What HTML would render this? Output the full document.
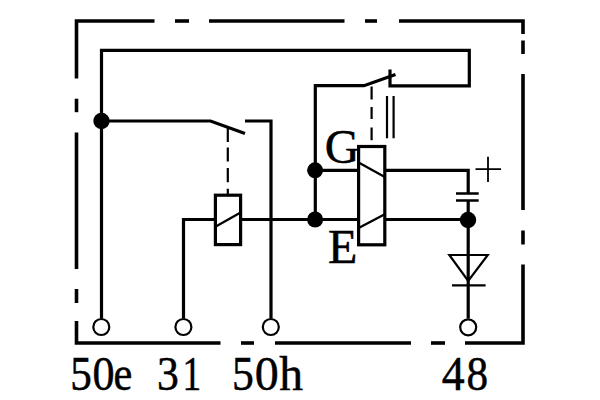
<!DOCTYPE html>
<html><head><meta charset="utf-8">
<style>
html,body{margin:0;padding:0;background:#fff;width:600px;height:400px;overflow:hidden;}
svg{display:block;}
text{font-family:"Liberation Serif",serif;fill:#000;stroke:#000;stroke-width:0.5px;}
</style></head>
<body>
<svg width="600" height="400" viewBox="0 0 600 400">
<g fill="none" stroke="#000" stroke-linecap="butt" stroke-linejoin="miter">
<!-- outer dashed box -->
<g stroke-width="3.6">
<path d="M76.5 78.5 V21 H154.5"/>
<path d="M175 21 H189"/>
<path d="M209 21 H344.5"/>
<path d="M365 21 H377"/>
<path d="M399 21 H523 V34"/>
<path d="M523 40.5 V54"/>
<path d="M523 74 V210"/>
<path d="M523 230.5 V244.5"/>
<path d="M523 264.5 V343 H465"/>
<path d="M445 343 H431"/>
<path d="M411 343 H275"/>
<path d="M254 343 H241"/>
<path d="M220.5 343 H76.5 V321"/>
<path d="M76.5 303 V289"/>
<path d="M76.5 269 V132.5"/>
<path d="M76.5 112.2 V98.7"/>
</g>
<!-- wires -->
<g stroke-width="3.2">
<path d="M101.5 318.5 V50.3 H469.3 V85.8 H390 V69.5"/>
<path d="M101.5 121 H210.5 L245 133.5"/>
<path d="M245 121 H271 V318.5"/>
<path d="M183.5 318.5 V219.5 H215.4"/>
<path d="M240.6 219.5 H358.5"/>
<path d="M384.8 219.5 H468.2 V318.5"/>
<path d="M315.3 219.5 V85.7 H364 L395.5 74.5"/>
<path d="M315.3 170.3 H358.5"/>
<path d="M384.8 170.3 H468.2 V193.5"/>
<path d="M468.2 200.5 V219.5"/>
<!-- relay coils -->
<rect x="215.4" y="195.2" width="25.2" height="49.4"/>
<rect x="358.6" y="146.5" width="26.2" height="98.3"/>
</g>
<g stroke-width="2.3">
<path d="M215.4 226.8 L240.6 212.6"/>
<path d="M358.6 162.6 L384.8 177"/>
<path d="M358.6 228 L384.8 214.2"/>
</g>
<!-- dashed mechanical links -->
<g stroke-width="2.2">
<path d="M227.8 127.5 V141.9 M227.8 147.5 V161.6 M227.8 168.1 V182.2 M227.8 188.8 V195"/>
<path d="M371.6 86.5 V99.6 M371.6 107 V119 M371.6 127.6 V140.3"/>
<path d="M387 96 V138.3 M393.6 96 V138.3"/>
</g>
<!-- capacitor -->
<g stroke-width="2.4">
<path d="M456 193.5 H478.7 M456 200.5 H478.7"/>
</g>
<!-- plus -->
<g stroke-width="1.8">
<path d="M475.5 169.2 H501 M488 156.8 V182"/>
</g>
<!-- diode -->
<g stroke-width="2.2">
<path d="M449.3 255 H487.8 L468.2 281 Z"/>
<path d="M452 285.4 H485.6"/>
</g>
<!-- terminals -->
<g stroke-width="2.2" fill="#fff">
<circle cx="101.3" cy="327" r="8"/>
<circle cx="183.4" cy="327" r="8"/>
<circle cx="270.8" cy="327" r="8"/>
<circle cx="468.2" cy="327.3" r="8"/>
</g>
</g>
<!-- junction dots -->
<g fill="#000">
<circle cx="101.5" cy="121" r="8.2"/>
<circle cx="315.1" cy="170.3" r="8"/>
<circle cx="315.1" cy="219.5" r="8"/>
<circle cx="468" cy="220" r="8.2"/>
</g>
<!-- labels -->
<g font-size="48">
<text x="324.8" y="163">G</text>
<text x="328" y="262.5">E</text>
<text transform="translate(70.2 390) scale(0.9 1)">5</text>
<text transform="translate(92.4 390) scale(0.92 1)">0</text>
<text transform="translate(113.5 390) scale(0.883 1)">e</text>
<text transform="translate(157 390) scale(0.91 1)">3</text>
<text transform="translate(182.5 390) scale(0.78 1)">1</text>
<text transform="translate(232 390) scale(0.91 1)">5</text>
<text transform="translate(254.7 390) scale(1.0 1)">0</text>
<text transform="translate(279.3 390) scale(0.99 1)">h</text>
<text transform="translate(441.7 390) scale(0.955 1)">4</text>
<text transform="translate(466.4 390) scale(0.9 1)">8</text>
</g>
</svg>
</body></html>
